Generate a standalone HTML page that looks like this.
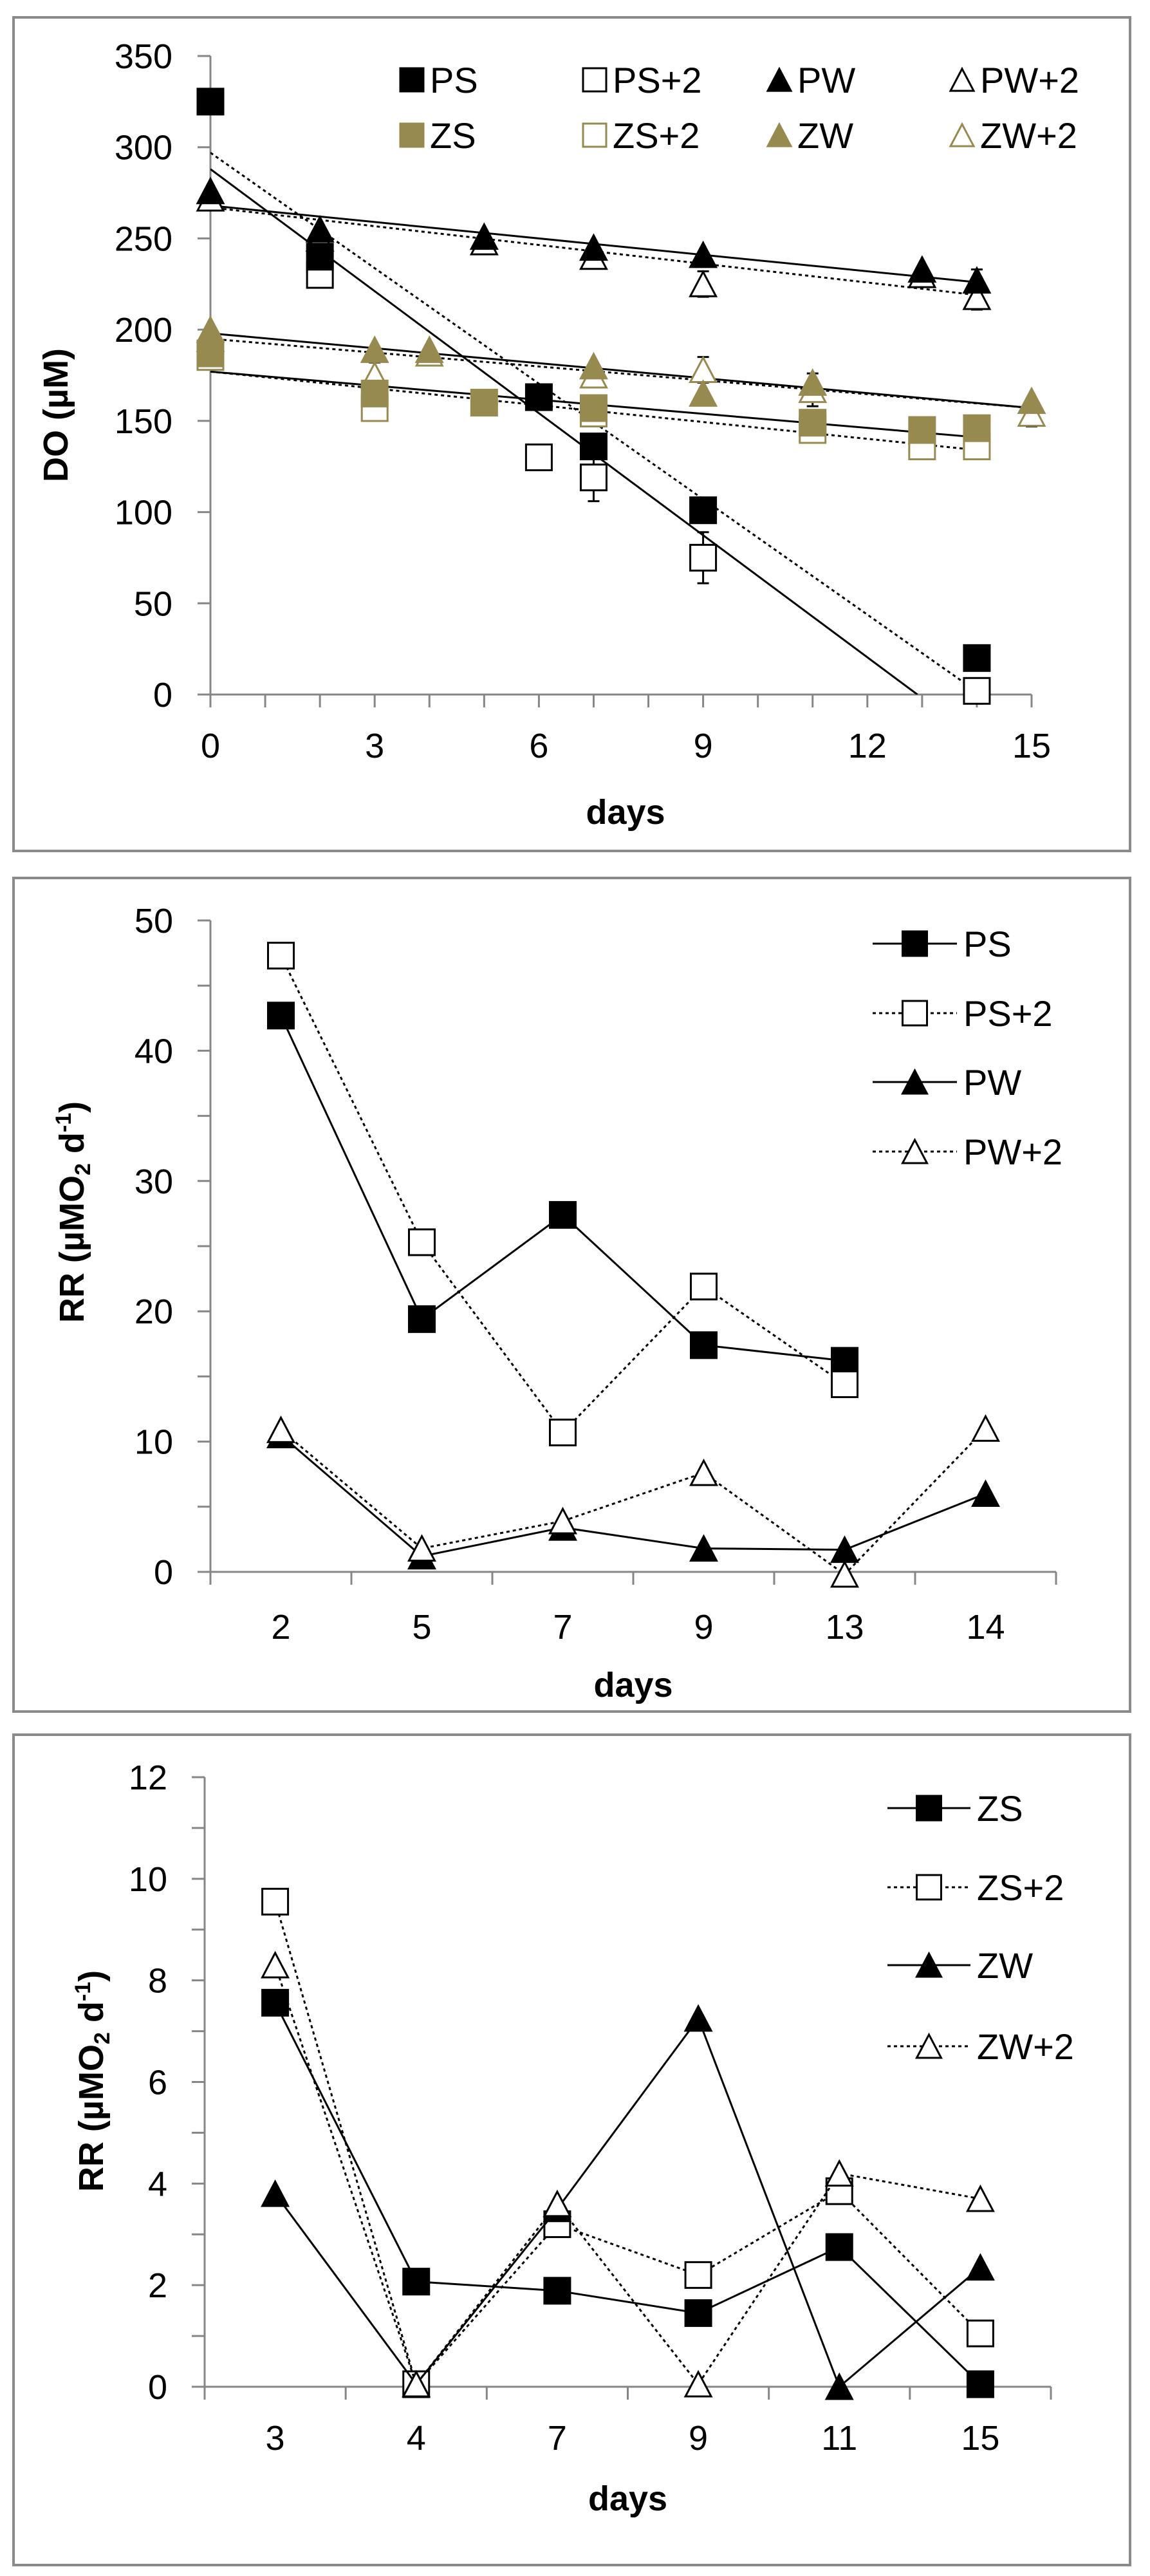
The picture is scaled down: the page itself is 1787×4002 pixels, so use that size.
<!DOCTYPE html>
<html><head><meta charset="utf-8">
<style>
html,body{margin:0;padding:0;background:#fff;}
svg{display:block;}
text{font-family:"Liberation Sans",sans-serif;fill:#000;}
</style></head>
<body>
<svg id="fig" width="1787" height="4002" viewBox="0 0 1787 4002" xmlns="http://www.w3.org/2000/svg"></svg>
<script>
// ---------- Panel 1 data (DO vs days) ----------
const p1Ticks = [0,50,100,150,200,250,300,350];
const p1XTicks = [0,3,6,9,12,15];
const psX = [0,2,6,7,9,14];       const psY = [325,240,163,136,101,20];
const ps2X = [2,6,7,9,14];        const ps2Y = [230,130,119,75,2];
const ps2Err = [0,0,13,14,7];
const pwX = [0,2,5,7,9,13,14];    const pwY = [276,255,251,245,241,233,227];
const pwErr = [0,0,0,0,0,0,6];
const pw2X = [0,2,5,7,9,13,14];   const pw2Y = [272,250,248,240,225,230,218];
const pw2Err = [0,0,0,0,7,0,7];
const zsX = [0,3,5,7,11,13,14];   const zsY = [187,165,160,157,149,145,146];
const zs2X = [0,3,7,11,13,14];    const zs2Y = [185,157,154,145,136,136];
const zwX = [0,3,4,7,9,11,15];    const zwY = [200,189,189,180,165,171,161];
const zw2X = [0,3,4,7,9,11,15];   const zw2Y = [195,175,187,175,178,167,154];
const zw2Err = [0,7,0,0,7,9,7];
// fitted trendlines (intercept, slope) per series: PS, PS+2, PW, PW+2, ZS, ZS+2, ZW, ZW+2
const trendIntercept = [288,297,268,267,177,177,198,195];
const trendSlope = [-22.3,-21.1,-3.0,-3.43,-2.57,-3.07,-2.73,-2.53];

// ---------- Panel 2 data (RR P) ----------
const p2Cats = ["2","5","7","9","13","14"];
const p2Ticks = [0,10,20,30,40,50];
const rrPS = [42.7,19.4,27.4,17.4,16.2,null];
const rrPS2 = [47.3,25.3,10.7,21.9,14.4,null];
const rrPW = [10.5,1.2,3.4,1.8,1.7,6.0];
const rrPW2 = [10.9,1.8,3.9,7.6,-0.2,11.0];

// ---------- Panel 3 data (RR Z) ----------
const p3Cats = ["3","4","7","9","11","15"];
const p3Ticks = [0,2,4,6,8,10,12];
const rrZS = [7.56,2.07,1.89,1.45,2.75,0.05];
const rrZS2 = [9.55,0.05,3.2,2.2,3.85,1.05];
const rrZW = [3.8,0.05,3.5,7.25,0.0,2.35];
const rrZW2 = [8.3,0.05,3.6,0.05,4.2,3.7];

const NS = "http://www.w3.org/2000/svg";
const svg = document.getElementById('fig');
const OLIVE = "#968a4f";
function el(tag, attrs, parent, txt){
  const e = document.createElementNS(NS, tag);
  for (const k in attrs) e.setAttribute(k, attrs[k]);
  if (txt !== undefined) e.textContent = txt;
  (parent||svg).appendChild(e);
  return e;
}
function marker(g, shape, cx, cy, fill, stroke, s){
  let m;
  if (shape === 'sq') {
    m = el('rect', {x:cx-s/2, y:cy-s/2, width:s, height:s, fill:fill, stroke:stroke, 'stroke-width':3}, g);
  } else {
    const h = s*0.95;
    m = el('polygon', {points:`${cx},${cy-h/2} ${cx+s/2},${cy+h/2} ${cx-s/2},${cy+h/2}`, fill:fill, stroke:stroke, 'stroke-width':3}, g);
  }
  return m;
}
function frame(x,y,w,h,name){
  const r = el('rect',{x:x,y:y,width:w,height:h,fill:'#fff',stroke:'#8a8a8a','stroke-width':4});
  
  
}

// ================= PANEL 1 =================
(function(){
  frame(21,27,1735,1295,'do-chart-frame');
  const g = el('g',{});  
  const X0=327, X1=1603, Y0=1079, Y1=87;
  const sx = d => X0 + (d-0)/(15-0)*(X1-X0);
  const sy = v => Y0 - v/350*(Y0-Y1);
  const ax = el('g',{stroke:'#868686','stroke-width':3},g);
   
  el('line',{x1:X0,y1:Y1,x2:X0,y2:Y0},ax);
  el('line',{x1:X0-18,y1:Y0,x2:X1,y2:Y0},ax);
  p1Ticks.forEach(v=>{
    el('line',{x1:X0-20,y1:sy(v),x2:X0,y2:sy(v)},ax);
    const t = el('text',{x:268,y:sy(v)+19,'font-size':54,'text-anchor':'end'},g,String(v));
     
  });
  for(let d=0; d<=15; d++) el('line',{x1:sx(d),y1:Y0,x2:sx(d),y2:Y0+20},ax);
  p1XTicks.forEach(d=>{
    const t = el('text',{x:sx(d),y:1177,'font-size':54,'text-anchor':'middle'},g,String(d));
     
  });
  const xt = el('text',{x:972,y:1280,'font-size':54,'font-weight':'bold','text-anchor':'middle'},g,'days');
   
  const yt = el('text',{x:0,y:0,'font-size':54,'font-weight':'bold','text-anchor':'middle',transform:'translate(105,645) rotate(-90)'},g,'DO (µM)');
   

  const clip = el('clipPath',{id:'c1'},svg); el('rect',{x:X0,y:Y1-60,width:X1-X0+10,height:Y0-Y1+60},clip);
  const series = [
    {n:'ps', xs:psX, ys:psY, err:null, shape:'sq', fill:'#000', stroke:'#000', dash:null},
    {n:'ps-plus2', xs:ps2X, ys:ps2Y, err:ps2Err, shape:'sq', fill:'#fff', stroke:'#000', dash:'5,5'},
    {n:'pw', xs:pwX, ys:pwY, err:pwErr, shape:'tri', fill:'#000', stroke:'#000', dash:null},
    {n:'pw-plus2', xs:pw2X, ys:pw2Y, err:pw2Err, shape:'tri', fill:'#fff', stroke:'#000', dash:'5,5'},
    {n:'zs', xs:zsX, ys:zsY, err:null, shape:'sq', fill:OLIVE, stroke:OLIVE, dash:null},
    {n:'zs-plus2', xs:zs2X, ys:zs2Y, err:null, shape:'sq', fill:'#fff', stroke:OLIVE, dash:'5,5'},
    {n:'zw', xs:zwX, ys:zwY, err:null, shape:'tri', fill:OLIVE, stroke:OLIVE, dash:null},
    {n:'zw-plus2', xs:zw2X, ys:zw2Y, err:zw2Err, shape:'tri', fill:'#fff', stroke:OLIVE, dash:'5,5'}
  ];
  series.forEach((s,k)=>{
    const a = trendIntercept[k], b = trendSlope[k];
    let xe = Math.max(...s.xs); if (a + b*xe < 0) xe = -a/b;
    const tl = el('line',{x1:sx(0),y1:sy(a),x2:sx(xe),y2:sy(a+b*xe),stroke:'#000','stroke-width':3,'clip-path':'url(#c1)'},g);
    if (s.dash) tl.setAttribute('stroke-dasharray', s.dash);
     
  });
  series.slice().reverse().forEach(s=>{
    const sg = el('g',{},g);  
    s.xs.forEach((d,i)=>{
      const cx=sx(d), cy=sy(s.ys[i]);
      if (s.err && s.err[i]) {
        const e1=sy(s.ys[i]+s.err[i]), e2=sy(s.ys[i]-s.err[i]);
        el('line',{x1:cx,y1:e1,x2:cx,y2:e2,stroke:'#000','stroke-width':3},sg);
        el('line',{x1:cx-9,y1:e1,x2:cx+9,y2:e1,stroke:'#000','stroke-width':3},sg);
        el('line',{x1:cx-9,y1:e2,x2:cx+9,y2:e2,stroke:'#000','stroke-width':3},sg);
      }
      const m = marker(sg, s.shape, cx, cy, s.fill, s.stroke, 40);
       
    });
  });
  const lg = el('g',{},g);  
  const leg = [
    ['PS','sq','#000','#000',640,124],['PS+2','sq','#fff','#000',924,124],['PW','tri','#000','#000',1211,124],['PW+2','tri','#fff','#000',1495,124],
    ['ZS','sq',OLIVE,OLIVE,640,210],['ZS+2','sq','#fff',OLIVE,924,210],['ZW','tri',OLIVE,OLIVE,1211,210],['ZW+2','tri','#fff',OLIVE,1495,210]
  ];
  leg.forEach(L=>{
    const e = el('g',{},lg);  
    marker(e, L[1], L[4], L[5], L[2], L[3], 36);
    el('text',{x:L[4]+28,y:L[5]+20,'font-size':56},e,L[0]);
  });
})();

// ================= Category panels =================
function catPanel(o){
  frame(o.fx,o.fy,o.fw,o.fh,o.name+'-frame');
  const g = el('g',{});  
  const n = o.cats.length, bw = (o.X1-o.X0)/n;
  const sx = i => o.X0 + bw*(i+0.5);
  const sy = v => o.Y0 - v/o.max*(o.Y0-o.Y1);
  const ax = el('g',{stroke:'#868686','stroke-width':3},g);
   
  el('line',{x1:o.X0,y1:o.Y1,x2:o.X0,y2:o.Y0},ax);
  el('line',{x1:o.X0-18,y1:o.Y0,x2:o.X1,y2:o.Y0},ax);
  for(let v=0; v<=o.max+1e-9; v+=o.minor) el('line',{x1:o.X0-20,y1:sy(v),x2:o.X0,y2:sy(v)},ax);
  o.ticks.forEach(v=>{
    const t = el('text',{x:o.X0-58,y:sy(v)+19,'font-size':54,'text-anchor':'end'},g,String(v));
     
  });
  for(let i=0;i<=n;i++) el('line',{x1:o.X0+bw*i,y1:o.Y0,x2:o.X0+bw*i,y2:o.Y0+20},ax);
  o.cats.forEach((c,i)=>{
    const t = el('text',{x:sx(i),y:o.labY,'font-size':54,'text-anchor':'middle'},g,c);
     
  });
  const xt = el('text',{x:(o.X0+o.X1)/2,y:o.titleY,'font-size':54,'font-weight':'bold','text-anchor':'middle'},g,'days');
   
  const yt = el('text',{x:0,y:0,'font-size':54,'font-weight':'bold','text-anchor':'middle',transform:`translate(${o.ytX},${o.ytY}) rotate(-90)`},g);
   
  el('tspan',{},yt,'RR (µMO');
  el('tspan',{'font-size':34,dy:10},yt,'2');
  el('tspan',{dy:-10},yt,' d');
  el('tspan',{'font-size':34,dy:-20},yt,'-1');
  el('tspan',{dy:20},yt,')');
  o.series.forEach(s=>{
    const sg = el('g',{},g);  
    let pts=[]; s.v.forEach((v,i)=>{ if(v!==null) pts.push([sx(i),sy(v)]); });
    const pl = el('polyline',{points:pts.map(p=>p.join(',')).join(' '),fill:'none',stroke:'#000','stroke-width':3},sg);
    if (s.dash) pl.setAttribute('stroke-dasharray','5,5');
     
    pts.forEach(p=>{
      const m = marker(sg, s.shape, p[0], p[1], s.fill, '#000', 40);
       
    });
  });
  const lg = el('g',{},g);  
  o.series.forEach((s,i)=>{
    const y = o.legY[i];
    const e = el('g',{},lg);  
    const l = el('line',{x1:o.legX1,y1:y,x2:o.legX2,y2:y,stroke:'#000','stroke-width':3},e);
    if (s.dash) l.setAttribute('stroke-dasharray','5,5');
    marker(e, s.shape, (o.legX1+o.legX2)/2, y, s.fill, '#000', 38);
    el('text',{x:o.legX2+10,y:y+20,'font-size':56},e,s.label);
  });
}

catPanel({name:'rr-p-chart', fx:21,fy:1364,fw:1735,fh:1295,
  X0:327,X1:1641,Y0:2442,Y1:1430,max:50,minor:5,ticks:p2Ticks,cats:p2Cats,
  labY:2546,titleY:2636,ytX:130,ytY:1883,
  legX1:1356,legX2:1487,legY:[1466,1574,1681,1789],
  series:[
    {n:'ps',label:'PS',v:rrPS,shape:'sq',fill:'#000',dash:false},
    {n:'ps-plus2',label:'PS+2',v:rrPS2,shape:'sq',fill:'#fff',dash:true},
    {n:'pw',label:'PW',v:rrPW,shape:'tri',fill:'#000',dash:false},
    {n:'pw-plus2',label:'PW+2',v:rrPW2,shape:'tri',fill:'#fff',dash:true}
  ]});

catPanel({name:'rr-z-chart', fx:21,fy:2695,fw:1735,fh:1290,
  X0:318,X1:1633,Y0:3708,Y1:2761,max:12,minor:1,ticks:p3Ticks,cats:p3Cats,
  labY:3806,titleY:3900,ytX:160,ytY:3233,
  legX1:1379,legX2:1508,legY:[2809,2932,3053,3179],
  series:[
    {n:'zs',label:'ZS',v:rrZS,shape:'sq',fill:'#000',dash:false},
    {n:'zs-plus2',label:'ZS+2',v:rrZS2,shape:'sq',fill:'#fff',dash:true},
    {n:'zw',label:'ZW',v:rrZW,shape:'tri',fill:'#000',dash:false},
    {n:'zw-plus2',label:'ZW+2',v:rrZW2,shape:'tri',fill:'#fff',dash:true}
  ]});
</script>
</body></html>
